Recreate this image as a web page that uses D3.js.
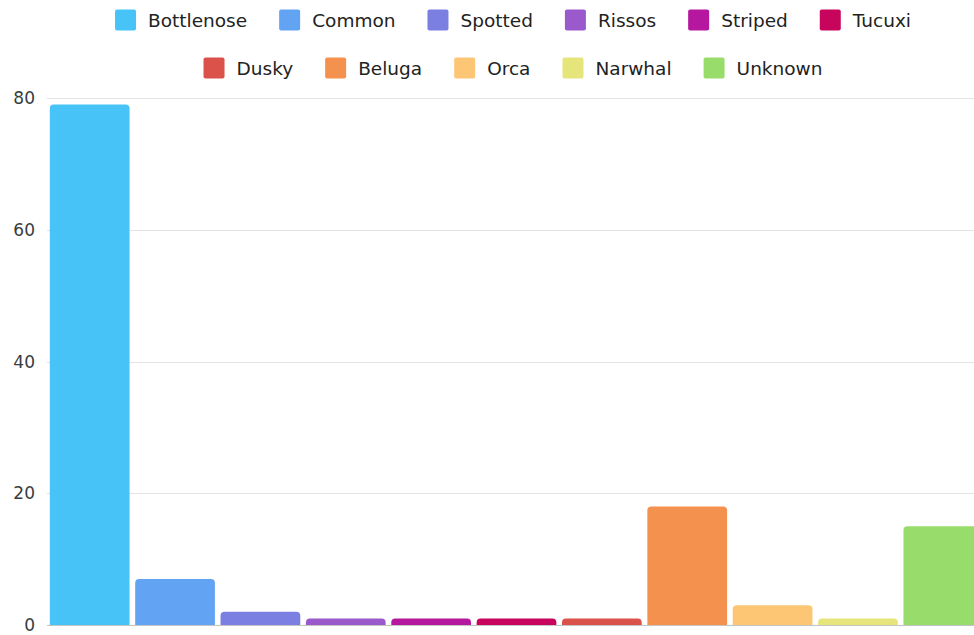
<!DOCTYPE html>
<html>
<head>
<meta charset="utf-8">
<script src="https://cdn.jsdelivr.net/npm/d3@7"></script>
<style>
  body { margin: 0; background: #fff; }
  svg { display: block; font-family: "DejaVu Sans", sans-serif; }
  .grid line { stroke: #e3e3e3; stroke-width: 1; }
  .axis text { fill: #373d3f; font-size: 17px; }
  .legend text { fill: #222; font-size: 18.5px; }
</style>
</head>
<body>
<svg id="chart" width="974" height="635"></svg>
<script>
// Sightings per species
var species = ["Bottlenose", "Common", "Spotted", "Rissos", "Striped", "Tucuxi",
               "Dusky", "Beluga", "Orca", "Narwhal", "Unknown"];
var counts = [79, 7, 2, 1, 1, 1, 1, 18, 3, 1, 15];
var colors = ["#47c3f8", "#63a3f4", "#7a7fe1", "#9b5acb", "#b5189f", "#c8055c",
              "#da5249", "#f4914f", "#fdc674", "#e5e57c", "#98dd6b"];
var yTicks = [0, 20, 40, 60, 80];
var legendRows = [[0, 1, 2, 3, 4, 5], [6, 7, 8, 9, 10]];

var svg = d3.select("#chart");
var margin = {top: 98, left: 47, bottom: 10},
    plotRight = 986,
    baseY = 625;

var x = d3.scaleBand()
  .domain(species)
  .range([margin.left, plotRight])
  .paddingInner(0.066)
  .paddingOuter(0.033);

var y = d3.scaleLinear()
  .domain([0, 80])
  .range([baseY, margin.top]);

// grid lines
svg.append("g")
  .attr("class", "grid")
  .selectAll("line")
  .data(yTicks)
  .enter().append("line")
  .attr("x1", margin.left)
  .attr("x2", 974)
  .attr("y1", function(d) { return Math.round(y(d)) + 0.5; })
  .attr("y2", function(d) { return Math.round(y(d)) + 0.5; })
  .style("stroke", function(d) { return d == 0 ? "#c4c4c4" : null; });

// y axis labels
svg.append("g")
  .attr("class", "axis")
  .selectAll("text")
  .data(yTicks)
  .enter().append("text")
  .attr("x", 35)
  .attr("y", function(d) { return y(d) + 6; })
  .attr("text-anchor", "end")
  .text(function(d) { return d; });

// bars with rounded tops
function barPath(x0, w, top, bottom, r) {
  r = Math.min(r, (bottom - top), w / 2);
  return "M" + x0 + "," + bottom +
    "V" + (top + r) +
    "Q" + x0 + "," + top + " " + (x0 + r) + "," + top +
    "H" + (x0 + w - r) +
    "Q" + (x0 + w) + "," + top + " " + (x0 + w) + "," + (top + r) +
    "V" + bottom + "Z";
}

svg.append("g")
  .selectAll("path")
  .data(species)
  .enter().append("path")
  .attr("fill", function(d, i) { return colors[i]; })
  .attr("d", function(d, i) {
    return barPath(x(d), x.bandwidth(), y(counts[i]), baseY, 4);
  });

// legend, centered rows
var legend = svg.append("g").attr("class", "legend");
var legendCenter = 513, rowY = [20, 68], sw = 21, txtGap = 12, itemGap = 32;

legendRows.forEach(function(row, ri) {
  var g = legend.append("g");
  var xPos = 0;
  row.forEach(function(idx) {
    g.append("rect")
      .attr("x", xPos)
      .attr("y", rowY[ri] - sw / 2)
      .attr("width", sw)
      .attr("height", sw)
      .attr("rx", 2)
      .attr("fill", colors[idx]);
    var t = g.append("text")
      .attr("x", xPos + sw + txtGap)
      .attr("y", rowY[ri] + 6.5)
      .text(species[idx]);
    xPos += sw + txtGap + t.node().getComputedTextLength() + itemGap;
  });
  var total = xPos - itemGap;
  g.attr("transform", "translate(" + (legendCenter - total / 2) + ",0)");
});
</script>
</body>
</html>
